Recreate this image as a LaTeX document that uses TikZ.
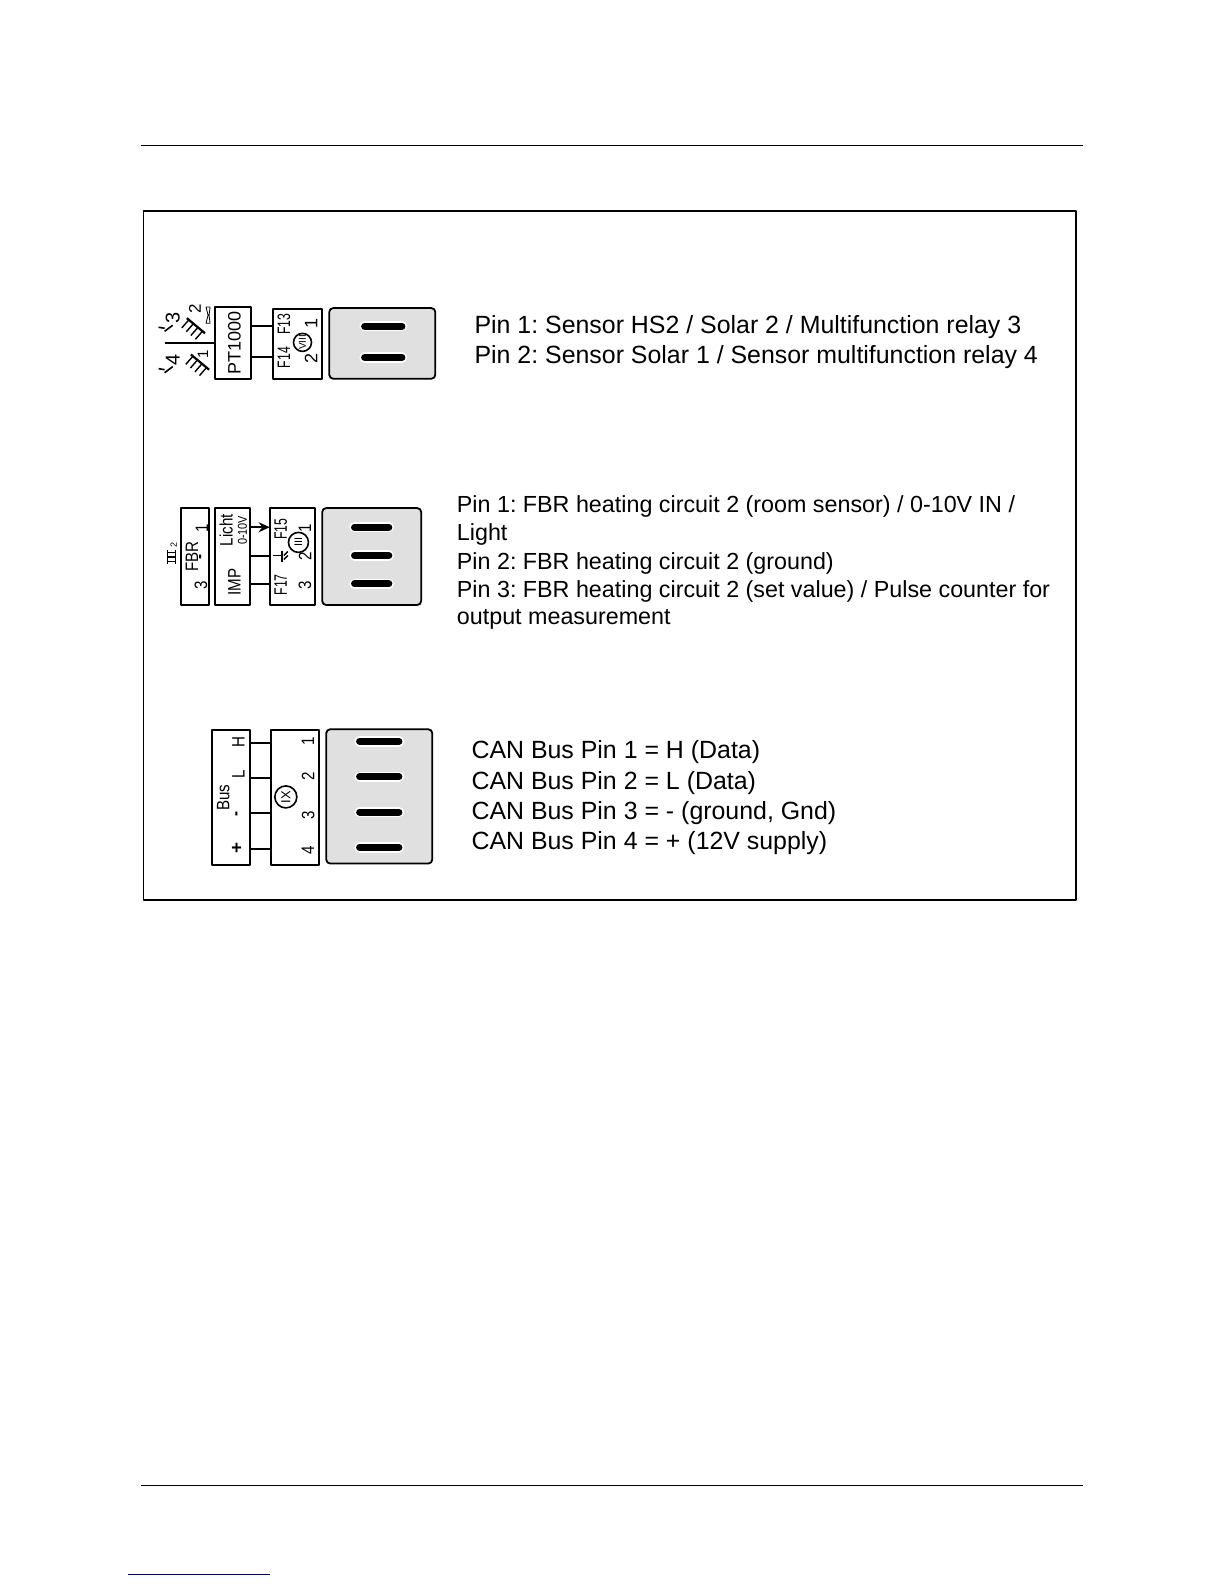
\documentclass[tikz,border=0pt]{standalone}
\usepackage{fontspec}
\setmainfont{Liberation Sans}
\frenchspacing
\usetikzlibrary{arrows.meta}
\newcommand{\heatsym}[2]{% diagonal heat mark with ticks
	\draw[line width=1.1pt] (#1-9,#2-7.5) -- (#1+9,#2+7.5);
	\foreach \t in {-7,-2.5,2,6.5}
		\draw[line width=0.7pt] (#1+\t,#2+\t*0.83) -- (#1+\t-7,#2+\t*0.83+8);
}
\newcommand{\switchsym}[2]{% small switch mark
	\draw[line width=0.8pt] (#1-6,#2-1) -- (#1,#2);
	\draw[line width=0.8pt] (#1,#2+3) -- (#1+8,#2-3);
}
\tikzset{
	pinbox/.style={draw, line width=1pt},
	plugbox/.style={draw, line width=0.9pt, fill=black!12, rounded corners=2pt},
	wire/.style={line width=1pt},
	pinbar/.style={line width=3.5pt, line cap=round},
	pinhalo/.style={line width=5.2pt, line cap=round, white},
	rowtext/.style={anchor=west, inner sep=0pt, font=\fontsize{12.45}{14}\selectfont},
	fbrtext/.style={anchor=west, inner sep=0pt, font=\fontsize{11.65}{14}\selectfont},
	vtext/.style={rotate=90, inner sep=0pt, font=\fontsize{9}{10}\selectfont},
	vsmall/.style={rotate=90, xscale=0.84, inner sep=0pt, font=\fontsize{9}{10}\selectfont},
	vfuse/.style={rotate=90, xscale=0.68, inner sep=0pt, font=\fontsize{9}{10}\selectfont},
	vtiny/.style={rotate=90, inner sep=0pt, font=\fontsize{5.5}{6}\selectfont}
}
\begin{document}
\begin{tikzpicture}[x=0.505pt, y=-0.505pt, line join=round, >=stealth]
	\useasboundingbox (0,0) rectangle (1212,1568.3);
	%%%%%%%%%%%%%%%%%%%%%%%%%%%%%%%%%
	\coordinate (TopL) at (140,144);
	\coordinate (TopR) at (1072,144);
	\coordinate (BotL) at (140,1471);
	\coordinate (BotR) at (1072,1471);
	\coordinate (LinkL) at (127,1559);
	\coordinate (LinkR) at (267,1559);
	\draw[line width=0.5pt] (TopL) -- (TopR);
	\draw[line width=0.5pt] (BotL) -- (BotR);
	\draw[line width=0.5pt, blue!60!black] (LinkL) -- (LinkR);
	\draw[line width=0.85pt] (142,209) rectangle (1065.5,891);
	%%%%%%%%%%%%%%%%%%%%%%%%%%%%%%%%%
	% first connector
	\coordinate (Pa) at (249,323);
	\coordinate (Pb) at (249,353);
	\coordinate (Fa) at (270,323);
	\coordinate (Fb) at (270,353);
	\coordinate (Sa) at (163,340);
	\coordinate (Sb) at (213,340);
	\draw[pinbox] (213,304) rectangle (249,375);
	\draw[pinbox] (270,306) rectangle (319,375);
	\draw[plugbox] (326,305) rectangle (431,375);
	\draw[wire] (Pa) -- (Fa);
	\draw[wire] (Pb) -- (Fb);
	\draw[wire] (Sa) -- (Sb);
	\draw[pinhalo] (361,323) -- (398,323);
	\draw[pinhalo] (361,354) -- (398,354);
	\draw[pinbar] (361,323) -- (398,323);
	\draw[pinbar] (361,354) -- (398,354);
	\switchsym{163}{325}
	\switchsym{163}{366}
	\heatsym{194}{322.5}
	\heatsym{198}{358.5}
	\draw[line width=0.4pt] (204,304) -- (206,312) -- (204,320) -- (208,320) -- (207,312) -- (208,304) -- cycle;
	\node[vtext] (ptlabel) at (232,340) {PT1000};
	\node[vtext, font=\fontsize{10}{11}\selectfont] (three) at (171,315) {3};
	\node[vtext, font=\fontsize{10}{11}\selectfont] (four) at (171,356) {4};
	\node[vtiny, font=\fontsize{8.5}{9}\selectfont] (two) at (193,306) {2};
	\node[vtiny, font=\fontsize{7.5}{8}\selectfont] (one) at (201,351) {1};
	\node[vfuse] (fthirteen) at (281,321) {F13};
	\node[vfuse] (ffourteen) at (281,354) {F14};
	\node[vtext] (pone) at (308,320) {1};
	\node[vtext] (ptwo) at (308,355) {2};
	\draw[line width=0.8pt] (299.5,339) circle (4.5pt);
	\node[vtiny, font=\fontsize{5}{6}\selectfont] (eight) at (299.5,339) {VIII};
	\node[rowtext] (pinA) at (469.5,324) {Pin 1: Sensor HS2 / Solar 2 / Multifunction relay 3};
	\node[rowtext] (pinB) at (469.5,353.5) {Pin 2: Sensor Solar 1 / Sensor multifunction relay 4};
	%%%%%%%%%%%%%%%%%%%%%%%%%%%%%%%%%
	% second connector
	\coordinate (La) at (248,522);
	\coordinate (Lb) at (248,550);
	\coordinate (Lc) at (248,578);
	\coordinate (Ra) at (267,522);
	\coordinate (Rb) at (267,550);
	\coordinate (Rc) at (267,578);
	\draw[pinbox] (179,503) rectangle (207,599);
	\draw[pinbox] (213,503) rectangle (248,599);
	\draw[pinbox] (267,503) rectangle (312,599);
	\draw[plugbox] (319,503) rectangle (417,599);
	\draw[wire,-{Stealth[length=5.5pt,width=5pt]}] (La) -- (Ra);
	\draw[wire] (Lb) -- (Rb);
	\draw[wire] (Lc) -- (Rc);
	\foreach \y in {522,550,578} {
		\draw[pinhalo] (351,\y) -- (385,\y);
		\draw[pinbar] (351,\y) -- (385,\y);
	}
	\node[vsmall] (fbrone) at (200,523) {1};
	\node[vsmall] (fbrname) at (190,551) {FBR};
	\node[vsmall] (fbrdash) at (200,551) {\textbf{-}};
	\node[vsmall] (fbrthree) at (199,579) {3};
	\draw[line width=0.5pt] (166,545) -- (166,558) (174,545) -- (174,558);
	\foreach \y in {547,551.5,556}
		\draw[line width=0.6pt] (166,\y) -- (174,\y);
	\node[vtiny, font=\fontsize{4.5}{5}\selectfont] (heattwo) at (172,540) {2};
	\node[vsmall] (licht) at (224,525) {Licht};
	\node[vtiny, font=\fontsize{6.4}{7}\selectfont, xscale=0.85] (range) at (240,525) {0-10V};
	\node[vsmall] (imp) at (232,576) {IMP};
	\node[vfuse] (ffifteen) at (278,524) {F15};
	\node[vfuse] (fseventeen) at (278,579) {F17};
	\node[vsmall] (pinone) at (302,523) {1};
	\node[vsmall] (pintwo) at (302,551) {2};
	\node[vsmall] (pinthree) at (302,579) {3};
	\draw[line width=0.8pt] (295.5,537) circle (5pt);
	\node[vtiny] (circthree) at (295.5,537) {III};
	\draw[line width=0.9pt] (270,550) -- (279,550) (279,546) -- (279,556);
	\draw[line width=0.7pt] (285,546) -- (281,550) (285,550) -- (281,554);
	\node[fbrtext] (fbrA) at (452,501.5) {Pin 1: FBR heating circuit 2 (room sensor) / 0-10V IN /};
	\node[fbrtext] (fbrB) at (452,529.5) {Light};
	\node[fbrtext] (fbrC) at (452,557.5) {Pin 2: FBR heating circuit 2 (ground)};
	\node[fbrtext] (fbrD) at (452,585.5) {Pin 3: FBR heating circuit 2 (set value) / Pulse counter for};
	\node[fbrtext] (fbrE) at (452,613.5) {output measurement};
	%%%%%%%%%%%%%%%%%%%%%%%%%%%%%%%%%
	% third connector
	\coordinate (Ba) at (248,736);
	\coordinate (Bb) at (248,770);
	\coordinate (Bc) at (248,805);
	\coordinate (Bd) at (248,841);
	\coordinate (Ca) at (268,736);
	\coordinate (Cb) at (268,770);
	\coordinate (Cc) at (268,805);
	\coordinate (Cd) at (268,841);
	\draw[pinbox] (210,723) rectangle (248,856);
	\draw[pinbox] (268,723) rectangle (316,856);
	\draw[plugbox] (323,722) rectangle (428,855);
	\draw[wire] (Ba) -- (Ca);
	\draw[wire] (Bb) -- (Cb);
	\draw[wire] (Bc) -- (Cc);
	\draw[wire] (Bd) -- (Cd);
	\foreach \y in {734,769,804,839} {
		\draw[pinhalo] (356,\y) -- (395,\y);
		\draw[pinbar] (356,\y) -- (395,\y);
	}
	\node[vsmall] (busname) at (221,790) {Bus};
	\node[vsmall] (hi) at (236,735) {H};
	\node[vsmall] (lo) at (236,767) {L};
	\node[vsmall] (minus) at (236,806) {\textbf{-}};
	\node[vsmall, xscale=1.25] (plus) at (235,840) {\textbf{+}};
	\node[vsmall] (busone) at (305,734) {1};
	\node[vsmall] (bustwo) at (305,769) {2};
	\node[vsmall] (busthree) at (305,807) {3};
	\node[vsmall] (busfour) at (305,842) {4};
	\draw[line width=0.8pt] (283,789) circle (5.5pt);
	\node[vtiny, font=\fontsize{6.5}{7}\selectfont] (nine) at (283,789) {IX};
	\node[rowtext] (canA) at (466.5,745) {CAN Bus Pin 1 = H (Data)};
	\node[rowtext] (canB) at (466.5,775) {CAN Bus Pin 2 = L (Data)};
	\node[rowtext] (canC) at (466.5,805) {CAN Bus Pin 3 = - (ground, Gnd)};
	\node[rowtext] (canD) at (466.5,835) {CAN Bus Pin 4 = + (12V supply)};
	%%%%%%%%%%%%%%%%%%%%%%%%%%%%%%%%%
\end{tikzpicture}
\end{document}
